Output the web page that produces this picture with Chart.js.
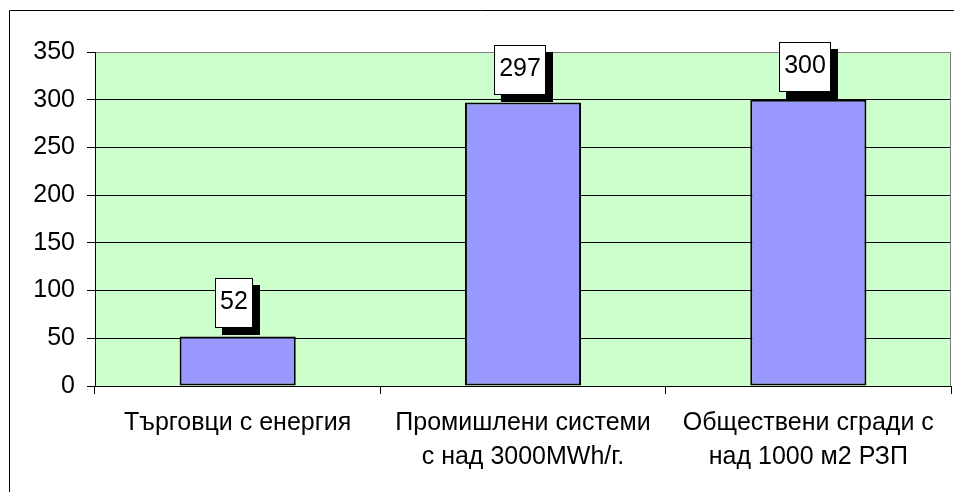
<!DOCTYPE html>
<html>
<head>
<meta charset="utf-8">
<script src="https://cdn.jsdelivr.net/npm/chart.js@4/dist/chart.umd.min.js"></script>
<style>
html,body{margin:0;padding:0;background:#fff;}
canvas{display:block;}
</style>
</head>
<body>
<canvas id="c" width="954" height="492"></canvas>
<script>
const categories = [
  ['Търговци с енергия'],
  ['Промишлени системи', 'с над 3000MWh/г.'],
  ['Обществени сгради с', 'над 1000 м2 РЗП']
];
const values = [52, 297, 300];
const yTicks = [0, 50, 100, 150, 200, 250, 300, 350];

const FONT = '"Liberation Sans", Arial, sans-serif';

const framePlugin = {
  id: 'frame',
  beforeDraw(chart) {
    const c = chart.ctx, a = chart.chartArea;
    c.save();
    c.fillStyle = '#fff';
    c.fillRect(0, 0, chart.width, chart.height);
    c.fillStyle = '#CCFFCC';
    c.fillRect(a.left, a.top, a.right - a.left, a.bottom - a.top);
    c.strokeStyle = '#000';
    c.lineWidth = 1;
    c.beginPath();
    c.moveTo(9.5, chart.height);
    c.lineTo(9.5, 10.5);
    c.lineTo(chart.width, 10.5);
    c.stroke();
    c.restore();
  },
  afterDraw(chart) {
    const c = chart.ctx, a = chart.chartArea;
    c.save();
    c.strokeStyle = '#808080';
    c.lineWidth = 1;
    c.beginPath();
    c.moveTo(Math.round(a.right) - 0.5, a.top);
    c.lineTo(Math.round(a.right) - 0.5, a.bottom);
    c.stroke();
    c.restore();
  }
};

const labelPlugin = {
  id: 'valueLabels',
  afterDatasetsDraw(chart) {
    const c = chart.ctx;
    const meta = chart.getDatasetMeta(0);
    c.save();
    c.font = '25px ' + FONT;
    meta.data.forEach((bar, i) => {
      const txt = String(values[i]);
      const tw = c.measureText(txt).width;
      const w = Math.round(tw + 10);
      const h = 50;
      const cx = bar.x - 3.5;
      const left = Math.round(cx - w / 2);
      const bottom = Math.round(bar.y - 8);
      const top = bottom - h;
      c.fillStyle = '#000';
      c.fillRect(left + 7, top + 7, w, h);
      c.fillStyle = '#fff';
      c.fillRect(left, top, w, h);
      c.strokeStyle = '#000';
      c.lineWidth = 1;
      c.strokeRect(left + 0.5, top + 0.5, w - 1, h - 1);
      c.fillStyle = '#000';
      c.textAlign = 'center';
      c.textBaseline = 'alphabetic';
      c.fillText(txt, left + w / 2, top + h / 2 + 6);
    });
    c.restore();
  }
};

new Chart(document.getElementById('c'), {
  type: 'bar',
  data: {
    labels: categories,
    datasets: [{
      data: values,
      backgroundColor: '#9999FF',
      borderColor: '#000',
      borderWidth: 2,
      borderSkipped: false,
      categoryPercentage: 1,
      barPercentage: 0.407
    }]
  },
  options: {
    responsive: false,
    animation: false,
    devicePixelRatio: 1,
    layout: { padding: { top: 52, right: 3, left: 0, bottom: 0 } },
    plugins: { legend: { display: false }, tooltip: { enabled: false } },
    scales: {
      x: {
        grid: { drawOnChartArea: false, offset: true, color: '#000', tickLength: 8 },
        border: { color: '#000', width: 1 },
        ticks: {
          color: '#000',
          font: { family: FONT, size: 25, lineHeight: 1.36 },
          padding: 12,
          maxRotation: 0,
          autoSkip: false
        },
        afterFit(scale) { scale.height = 106; }
      },
      y: {
        min: 0, max: 350,
        afterBuildTicks(scale) { scale.ticks = yTicks.map(v => ({ value: v })); },
        grid: {
          color: (ctx) => (ctx.tick && ctx.tick.value === 350) ? '#808080' : '#000',
          tickColor: '#000',
          tickLength: 8
        },
        border: { color: '#000', width: 1 },
        ticks: {
          color: '#000',
          font: { family: FONT, size: 25 },
          padding: 12
        },
        afterFit(scale) { scale.width = 95; }
      }
    }
  },
  plugins: [framePlugin, labelPlugin]
});
</script>
</body>
</html>
